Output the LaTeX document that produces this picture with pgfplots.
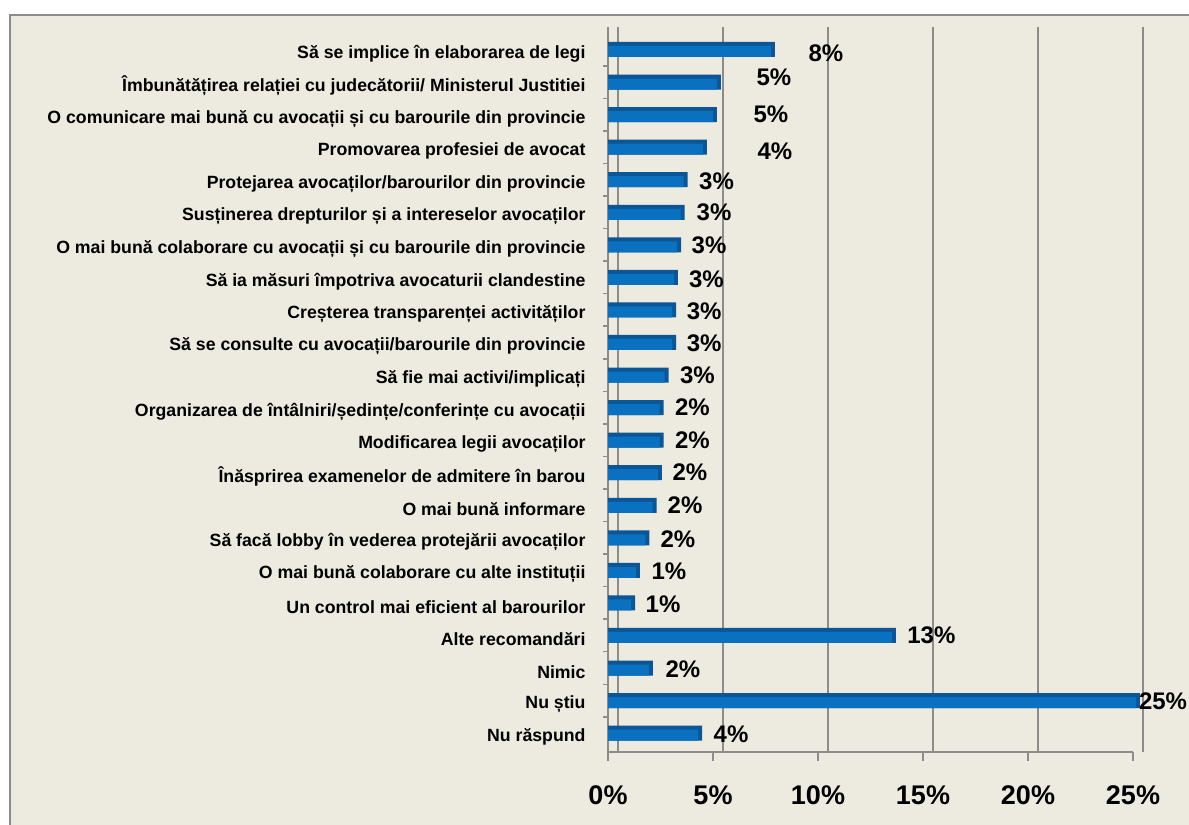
\documentclass[border=0pt]{standalone}
\usepackage{pgfplots}
\pgfplotsset{compat=1.18}
\usepackage{pgfplotstable}
\usepackage{fontspec}
\setmainfont{Liberation Sans}
\definecolor{bg}{HTML}{EDEAE0}
\definecolor{barblue}{HTML}{0A70C0}
\definecolor{bardark}{HTML}{0B5696}
\definecolor{gridgray}{HTML}{8C8C8C}
\pgfplotsset{/pgf/number format/assume math mode=true}

\pgfplotstableread{
y val lx ly lab
1 7.76 10.38 1.10 8
2 5.19 7.90 1.85 5
3 4.99 7.76 3.00 5
4 4.52 7.95 4.12 4
5 3.60 5.17 5.05 3
6 3.46 5.05 6.00 3
7 3.29 4.81 7.00 3
8 3.14 4.69 8.05 3
9 3.05 4.58 9.03 3
10 3.05 4.58 10.03 3
11 2.70 4.26 11.00 3
12 2.46 4.02 12.00 2
13 2.46 4.02 13.00 2
14 2.37 3.90 14.00 2
15 2.13 3.67 15.00 2
16 1.78 3.33 16.03 2
17 1.33 2.90 17.03 1
18 1.10 2.62 18.03 1
19 13.52 15.40 19.00 13
20 1.95 3.57 20.03 2
21 25.14 26.43 21.03 25
22 4.29 5.86 22.03 4
}\data

\begin{document}
\begin{tikzpicture}
\fill[bg] (10bp,-10bp) rectangle (1200bp,810bp);
\draw[gridgray, line width=2bp] (10bp,-10bp) -- (10bp,810bp) -- (1200bp,810bp);
\begin{axis}[
  at={(608bp,73bp)}, anchor=south west,
  scale only axis, width=525bp, height=725bp,
  xmin=0, xmax=25, ymin=0.309, ymax=22.58, y dir=reverse,
  clip=false,
  axis x line*=bottom, axis y line*=left,
  axis line style={gridgray, line width=1.5bp},
  xtick={0,5,...,25},
  xticklabel={\pgfmathprintnumber{\tick}\%},
  xticklabel style={font=\bfseries\fontsize{27bp}{27bp}\selectfont, yshift=-21bp},
  ytick={1,...,22},
  yticklabels={Să se implice în elaborarea de legi,
    Îmbunătățirea relației cu judecătorii/ Ministerul Justitiei,
    O comunicare mai bună cu avocații și cu barourile din provincie,
    Promovarea profesiei de avocat,
    Protejarea avocaților/barourilor din provincie,
    Susținerea drepturilor și a intereselor avocaților,
    O mai bună colaborare cu avocații și cu barourile din provincie,
    Să ia măsuri împotriva avocaturii clandestine,
    Creșterea transparenței activităților,
    Să se consulte cu avocații/barourile din provincie,
    Să fie mai activi/implicați,
    Organizarea de întâlniri/ședințe/conferințe cu avocații,
    Modificarea legii avocaților,
    Înăsprirea examenelor de admitere în barou,
    O mai bună informare,
    Să facă lobby în vederea protejării avocaților,
    O mai bună colaborare cu alte instituții,
    Un control mai eficient al barourilor,
    Alte recomandări,
    Nimic,
    Nu știu,
    Nu răspund},
  yticklabel style={font=\bfseries\fontsize{17.7bp}{17.7bp}\selectfont, xshift=-10bp, yshift=-4bp},
  ytick style={draw=none},
  extra y ticks={1.5,2.5,...,21.5},
  extra y tick labels={},
  extra y tick style={ytick style={draw=gridgray, line width=1.5bp}, major tick length=5bp},
  xmajorgrids,
  major grid style={gridgray, line width=1.5bp, xshift=10bp},
  tick align=outside, major tick length=9bp,
  xtick style={gridgray, line width=1.5bp},
]
\addplot[xbar, bar width=15bp, bar shift=0pt, fill=bardark, draw=none]
  table[x expr=\thisrow{val}+0.19, y=y] {\data};
\addplot[xbar, bar width=11bp, bar shift=-2bp, fill=barblue, draw=none]
  table[x=val, y=y] {\data};
\addplot[draw=none, mark=none, point meta=explicit,
  nodes near coords={\pgfmathprintnumber{\pgfplotspointmeta}\%},
  every node near coord/.append style={anchor=center, inner sep=0pt,
    font=\bfseries\fontsize{24bp}{24bp}\selectfont}]
  table[x=lx, y=ly, meta=lab] {\data};
\end{axis}
\pgfresetboundingbox
\path (0bp,0bp) rectangle (1189bp,825bp);
\end{tikzpicture}
\end{document}
